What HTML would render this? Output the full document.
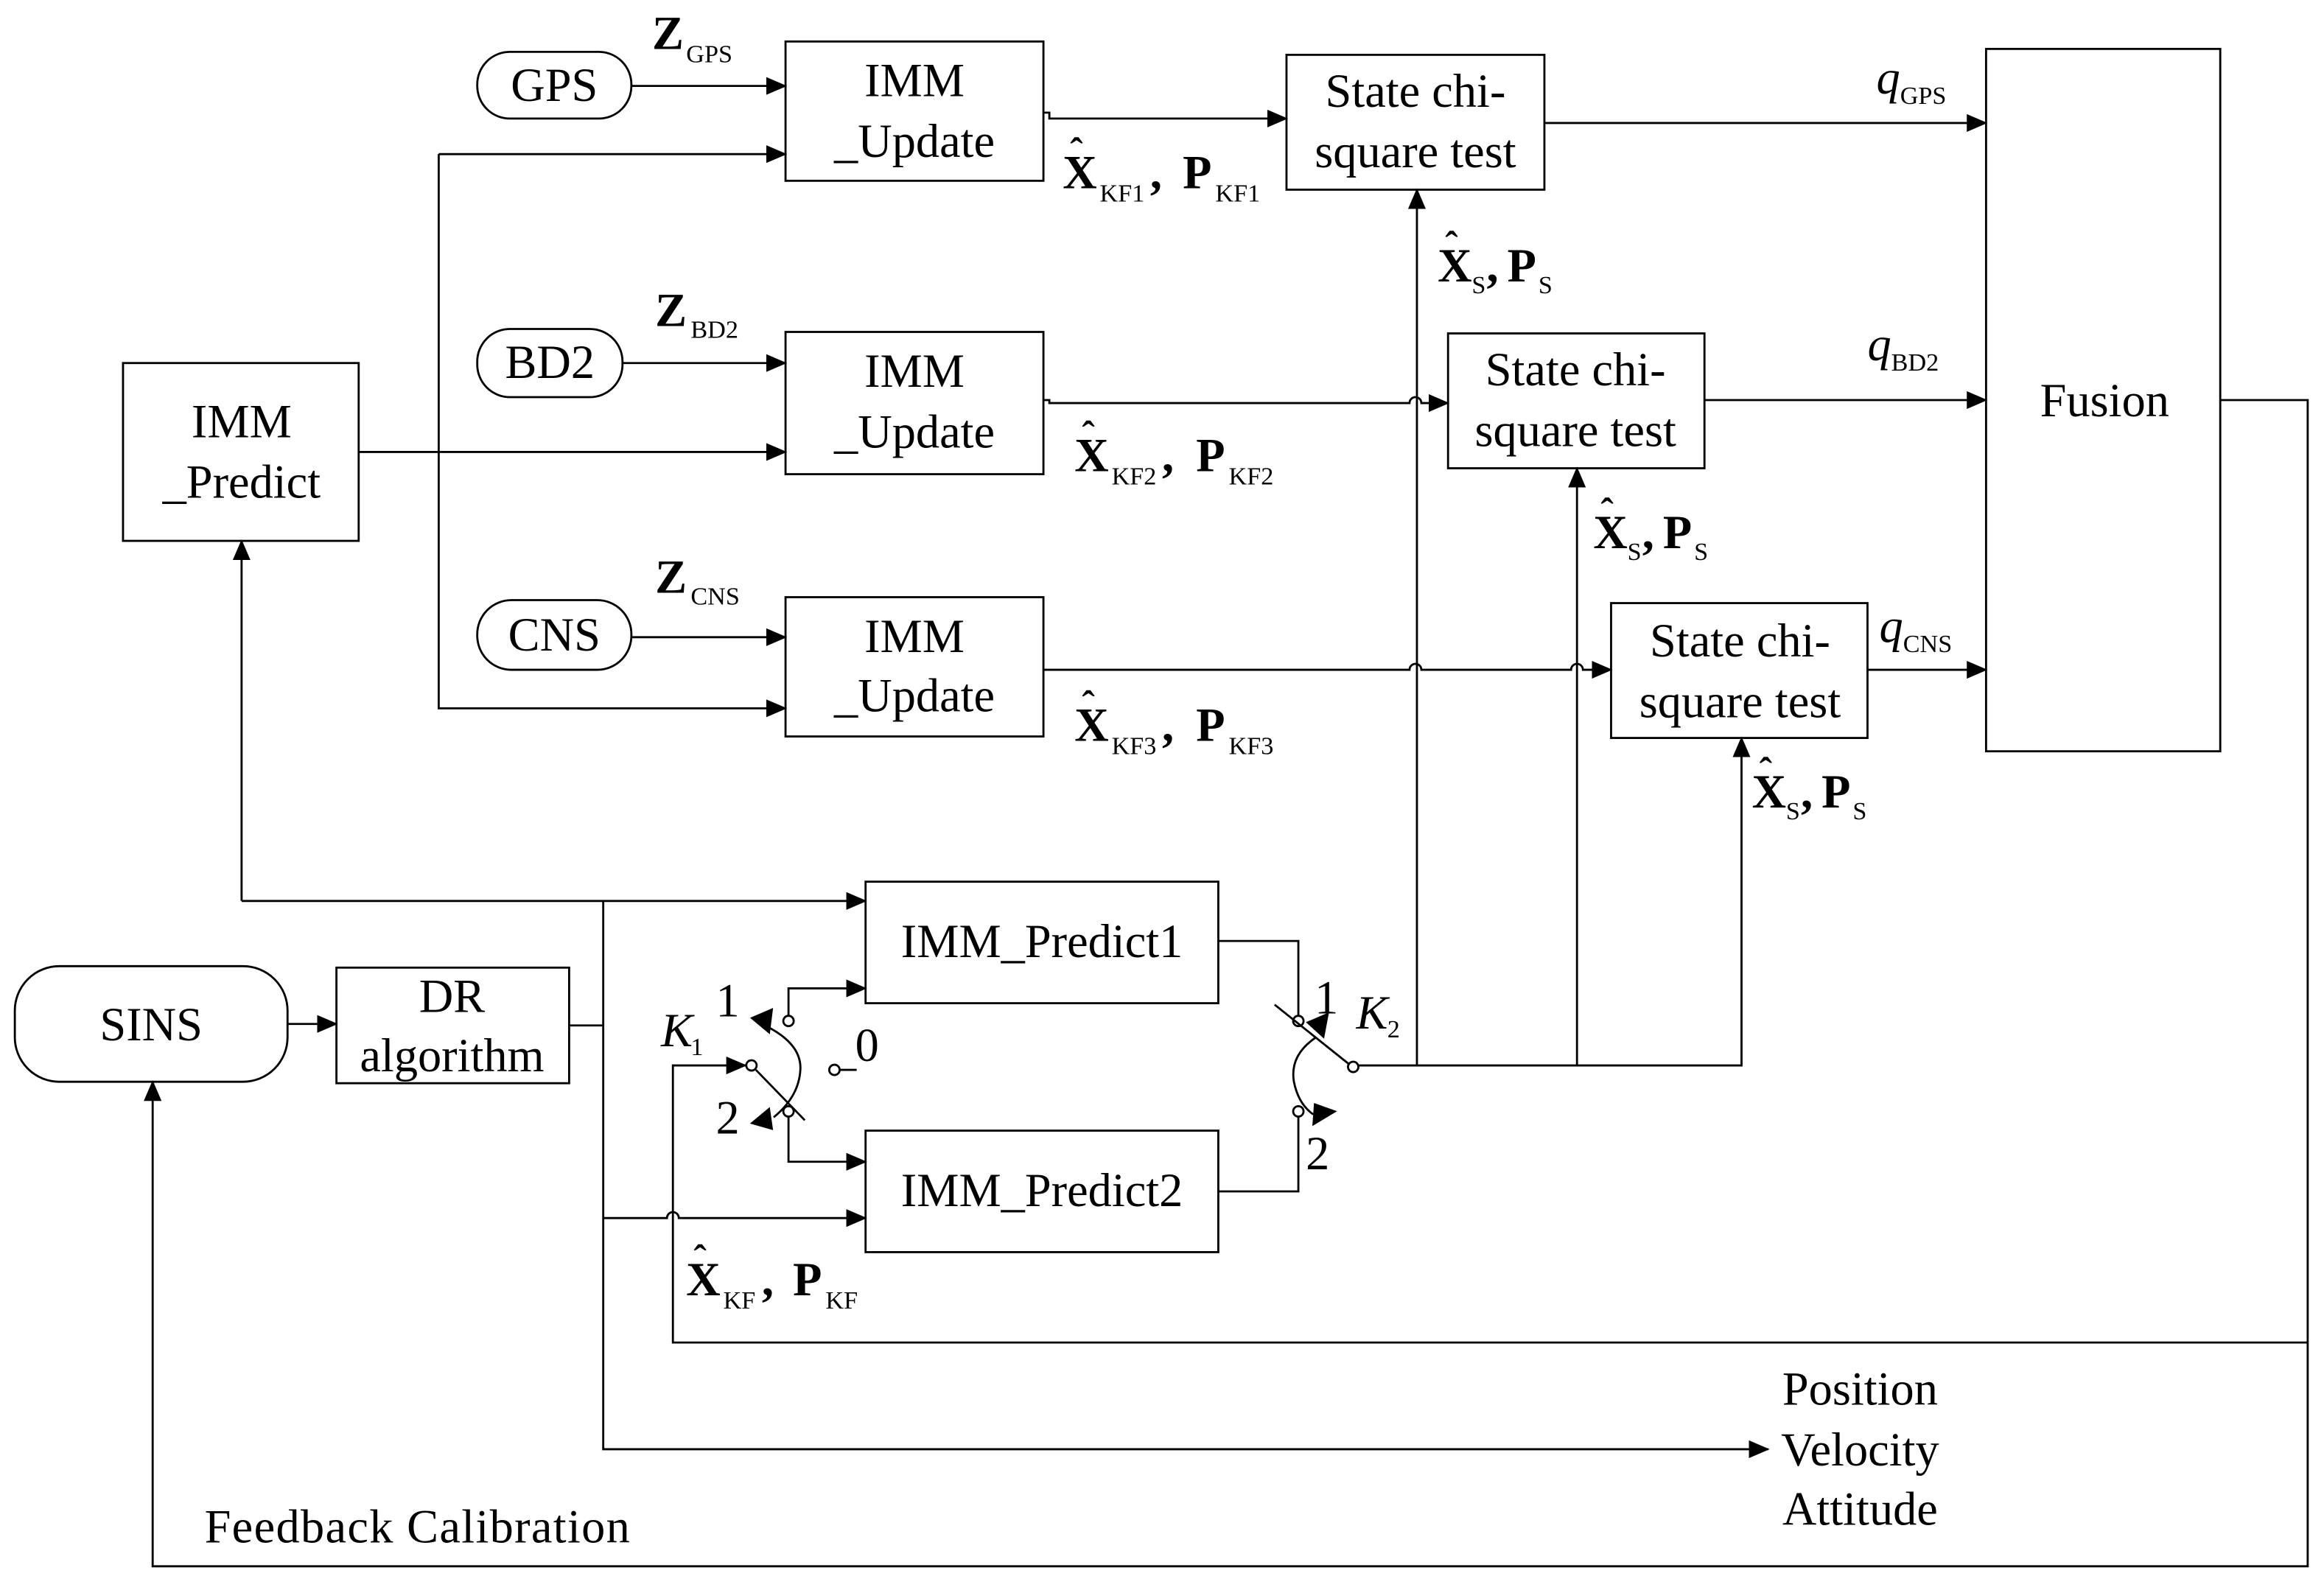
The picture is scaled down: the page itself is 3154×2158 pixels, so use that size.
<!DOCTYPE html>
<html><head><meta charset="utf-8"><style>
html,body{margin:0;padding:0;background:#fff}
svg{display:block}
text{font-family:"Liberation Serif",serif;fill:#000}
.b{font-size:32px}
.m{font-weight:bold;font-size:32px}
.h{font-weight:bold;font-size:26px}
.s{font-size:17px}
</style></head><body>
<svg width="3154" height="2158" viewBox="0 0 1568 1073" preserveAspectRatio="none" xmlns="http://www.w3.org/2000/svg">
<defs>
<marker id="a" markerUnits="userSpaceOnUse" markerWidth="14" markerHeight="12" refX="13" refY="6" orient="auto">
<path d="M0,0 L14,6 L0,12 z" fill="#000"/></marker>
</defs>
<g fill="none" stroke="#000" stroke-width="1.4">
<rect x="322" y="35" width="104" height="45" rx="22"/>
<rect x="322" y="222" width="98" height="46" rx="22"/>
<rect x="322" y="405" width="104" height="47" rx="23"/>
<rect x="10" y="652" width="184" height="78" rx="30"/>
<rect x="530" y="28" width="174" height="94"/>
<rect x="530" y="224" width="174" height="96"/>
<rect x="530" y="403" width="174" height="94"/>
<rect x="83" y="245" width="159" height="120"/>
<rect x="868" y="37" width="174" height="91"/>
<rect x="977" y="225" width="173" height="91"/>
<rect x="1087" y="407" width="173" height="91"/>
<rect x="1340" y="33" width="158" height="474"/>
<rect x="227" y="653" width="157" height="78"/>
<rect x="584" y="595" width="238" height="82"/>
<rect x="584" y="763" width="238" height="82"/>
<path d="M426,58 H530" marker-end="url(#a)"/>
<path d="M420,245 H530" marker-end="url(#a)"/>
<path d="M426,430 H530" marker-end="url(#a)"/>
<path d="M296,104 H530" marker-end="url(#a)"/>
<path d="M296,104 V478 H530" marker-end="url(#a)"/>
<path d="M242,305 H530" marker-end="url(#a)"/>
<path d="M704,76 H708 V80 H868" marker-end="url(#a)"/>
<path d="M704,270 H708 V272 H951 a4,4 0 0 1 8,0 H977" marker-end="url(#a)"/>
<path d="M704,452 H951 a4,4 0 0 1 8,0 H1060 a4,4 0 0 1 8,0 H1087" marker-end="url(#a)"/>
<path d="M1042,83 H1340" marker-end="url(#a)"/>
<path d="M1150,270 H1340" marker-end="url(#a)"/>
<path d="M1260,452 H1340" marker-end="url(#a)"/>
<path d="M1498,270 H1557 V1057 H103 V730" marker-end="url(#a)"/>
<path d="M1557,906 H454 V719 H503" marker-end="url(#a)"/>
<path d="M916,719 H1175 V498" marker-end="url(#a)"/>
<path d="M956,719 V128" marker-end="url(#a)"/>
<path d="M1064,719 V316" marker-end="url(#a)"/>
<path d="M194,691 H227" marker-end="url(#a)"/>
<path d="M384,692 H407"/>
<path d="M163,608 V365" marker-end="url(#a)"/>
<path d="M163,608 H584" marker-end="url(#a)"/>
<path d="M407,608 V978 H1193" marker-end="url(#a)"/>
<path d="M407,822 H450 a4,4 0 0 1 8,0 H584" marker-end="url(#a)"/>
<!-- K1 -->
<circle cx="507" cy="719" r="3.5"/>
<circle cx="532" cy="689" r="3.5"/>
<circle cx="532" cy="750" r="3.5"/>
<circle cx="563" cy="722" r="3.5"/>
<path d="M566,722 H578"/>
<path d="M532,686 V667 H584" marker-end="url(#a)"/>
<path d="M532,753 V784 H584" marker-end="url(#a)"/>
<path d="M510,722 L543,756"/>
<path d="M518,693 Q541,705 540,722 Q539,740 522,754"/>
<path d="M507,687 L521,681 L519,697 z" fill="#000" stroke-width="1"/>
<path d="M507,758 L519,748 L521,762 z" fill="#000" stroke-width="1"/>
<!-- K2 -->
<circle cx="876" cy="689" r="3.5"/>
<circle cx="876" cy="750" r="3.5"/>
<circle cx="913" cy="720" r="3.5"/>
<path d="M822,635 H876 V686"/>
<path d="M822,804 H876 V753"/>
<path d="M860,678 L910,718"/>
<path d="M888,700 Q870,712 873,730 Q876,745 886,752"/>
<path d="M896,684 L882,690 L893,700 z" fill="#000" stroke-width="1"/>
<path d="M901,750 L887,745 L886,759 z" fill="#000" stroke-width="1"/>
</g>
<g class="b" text-anchor="middle">
<text x="374" y="68">GPS</text>
<text x="371" y="255">BD2</text>
<text x="374" y="439">CNS</text>
<text x="617" y="65">IMM</text><text x="617" y="106">_Update</text>
<text x="617" y="261">IMM</text><text x="617" y="302">_Update</text>
<text x="617" y="440">IMM</text><text x="617" y="480">_Update</text>
<text x="163" y="295">IMM</text><text x="163" y="336">_Predict</text>
<text x="955" y="72">State chi-</text><text x="955" y="113">square test</text>
<text x="1063" y="260">State chi-</text><text x="1063" y="301">square test</text>
<text x="1174" y="443">State chi-</text><text x="1174" y="484">square test</text>
<text x="1420" y="281">Fusion</text>
<text x="102" y="702">SINS</text>
<text x="305" y="683">DR</text><text x="305" y="723">algorithm</text>
<text x="703" y="646">IMM_Predict1</text>
<text x="703" y="814">IMM_Predict2</text>
<text x="1255" y="948">Position</text>
<text x="1255" y="989">Velocity</text>
<text x="1255" y="1029">Attitude</text>
</g>
<text class="b" x="138" y="1041" textLength="287">Feedback Calibration</text>
<text class="b" x="483" y="686">1</text>
<text class="b" x="483" y="765">2</text>
<text class="b" x="577" y="716">0</text>
<text class="b" x="446" y="706" font-style="italic">K</text><text class="s" x="466" y="712">1</text>
<text class="b" x="887" y="684">1</text>
<text class="b" x="881" y="789">2</text>
<text class="b" x="915" y="694" font-style="italic">K</text><text class="s" x="936" y="700">2</text>
<text class="m" x="440" y="33">Z</text><text class="s" x="463" y="42">GPS</text>
<text class="m" x="442" y="220">Z</text><text class="s" x="466" y="228">BD2</text>
<text class="m" x="442" y="400">Z</text><text class="s" x="466" y="408">CNS</text>
<text class="b" x="1266" y="63" font-style="italic">q</text><text class="s" x="1282" y="70">GPS</text>
<text class="b" x="1260" y="243" font-style="italic">q</text><text class="s" x="1276" y="250">BD2</text>
<text class="b" x="1268" y="433" font-style="italic">q</text><text class="s" x="1284" y="440">CNS</text>
<g>
<text class="m" x="717" y="127">X</text><text class="h" x="722" y="111">ˆ</text><text class="s" x="742" y="136">KF1</text><text class="m" x="776" y="127">,</text><text class="m" x="798" y="127">P</text><text class="s" x="820" y="136">KF1</text>
<text class="m" x="725" y="318">X</text><text class="h" x="730" y="302">ˆ</text><text class="s" x="750" y="327">KF2</text><text class="m" x="784" y="318">,</text><text class="m" x="807" y="318">P</text><text class="s" x="829" y="327">KF2</text>
<text class="m" x="725" y="500">X</text><text class="h" x="730" y="484">ˆ</text><text class="s" x="750" y="509">KF3</text><text class="m" x="784" y="500">,</text><text class="m" x="807" y="500">P</text><text class="s" x="829" y="509">KF3</text>
<text class="m" x="463" y="874">X</text><text class="h" x="468" y="858">ˆ</text><text class="s" x="488" y="883">KF</text><text class="m" x="514" y="874">,</text><text class="m" x="535" y="874">P</text><text class="s" x="557" y="883">KF</text>
<text class="m" x="970" y="190">X</text><text class="h" x="975" y="174">ˆ</text><text class="s" x="993" y="198">S</text><text class="m" x="1003" y="190">,</text><text class="m" x="1017" y="190">P</text><text class="s" x="1038" y="198">S</text>
<text class="m" x="1075" y="370">X</text><text class="h" x="1080" y="354">ˆ</text><text class="s" x="1098" y="378">S</text><text class="m" x="1108" y="370">,</text><text class="m" x="1122" y="370">P</text><text class="s" x="1143" y="378">S</text>
<text class="m" x="1182" y="545">X</text><text class="h" x="1187" y="529">ˆ</text><text class="s" x="1205" y="553">S</text><text class="m" x="1215" y="545">,</text><text class="m" x="1229" y="545">P</text><text class="s" x="1250" y="553">S</text>
</g>
</svg>
</body></html>
